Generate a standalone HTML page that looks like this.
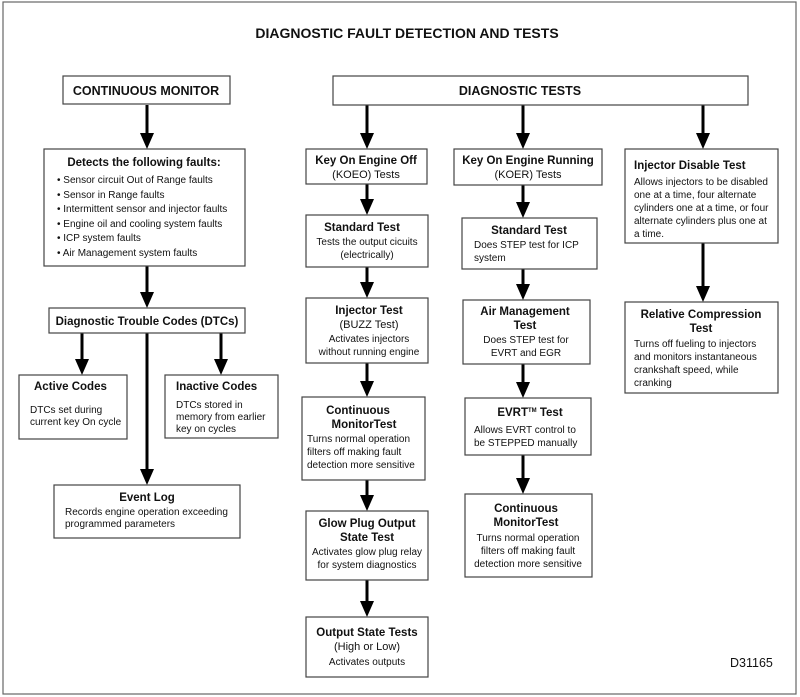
<!DOCTYPE html>
<html><head><meta charset="utf-8"><style>
html,body{margin:0;padding:0;background:#fff}
svg{display:block}
text{font-family:"Liberation Sans",Arial,sans-serif;fill:#111}
.b{font-weight:bold;font-size:11.5px}
.n{font-size:10px}
.t{font-size:12.5px}
rect{fill:#fff;stroke:#444;stroke-width:1.2}
line{stroke:#000;stroke-width:3}
polygon{fill:#000}
</style></head><body>
<svg width="800" height="697" viewBox="0 0 800 697">
<rect x="3" y="2" width="793" height="692" style="stroke:#666"/>
<text x="407" y="38" class="b" text-anchor="middle" style="font-size:14px">DIAGNOSTIC FAULT DETECTION AND TESTS</text>

<!-- arrows: line + head with tip at target -->
<g>
<line x1="147" y1="105" x2="147" y2="135"/><polygon points="140,133 154,133 147,149"/>
<line x1="147" y1="266" x2="147" y2="294"/><polygon points="140,292 154,292 147,308"/>
<line x1="82" y1="333" x2="82" y2="361"/><polygon points="75,359 89,359 82,375"/>
<line x1="221" y1="333" x2="221" y2="361"/><polygon points="214,359 228,359 221,375"/>
<line x1="147" y1="333" x2="147" y2="471"/><polygon points="140,469 154,469 147,485"/>
<line x1="367" y1="105" x2="367" y2="135"/><polygon points="360,133 374,133 367,149"/>
<line x1="523" y1="105" x2="523" y2="135"/><polygon points="516,133 530,133 523,149"/>
<line x1="703" y1="105" x2="703" y2="135"/><polygon points="696,133 710,133 703,149"/>
<line x1="367" y1="184" x2="367" y2="201"/><polygon points="360,199 374,199 367,215"/>
<line x1="367" y1="267" x2="367" y2="284"/><polygon points="360,282 374,282 367,298"/>
<line x1="367" y1="363" x2="367" y2="383"/><polygon points="360,381 374,381 367,397"/>
<line x1="367" y1="480" x2="367" y2="497"/><polygon points="360,495 374,495 367,511"/>
<line x1="367" y1="580" x2="367" y2="603"/><polygon points="360,601 374,601 367,617"/>
<line x1="523" y1="185" x2="523" y2="204"/><polygon points="516,202 530,202 523,218"/>
<line x1="523" y1="269" x2="523" y2="286"/><polygon points="516,284 530,284 523,300"/>
<line x1="523" y1="364" x2="523" y2="384"/><polygon points="516,382 530,382 523,398"/>
<line x1="523" y1="455" x2="523" y2="480"/><polygon points="516,478 530,478 523,494"/>
<line x1="703" y1="243" x2="703" y2="288"/><polygon points="696,286 710,286 703,302"/>
</g>

<rect x="63" y="76" width="167" height="28"/>
<text x="146" y="95" class="b" text-anchor="middle" style="font-size:12.5px">CONTINUOUS MONITOR</text>
<rect x="333" y="76" width="415" height="29"/>
<text x="520" y="95" class="b" text-anchor="middle" style="font-size:12.5px">DIAGNOSTIC TESTS</text>

<rect x="44" y="149" width="201" height="117"/>
<text x="144" y="166" class="b" text-anchor="middle">Detects the following faults:</text>
<text x="57" y="183" class="n">• Sensor circuit Out of Range faults</text>
<text x="57" y="198" class="n">• Sensor in Range faults</text>
<text x="57" y="212" class="n">• Intermittent sensor and injector faults</text>
<text x="57" y="227" class="n">• Engine oil and cooling system faults</text>
<text x="57" y="241" class="n">• ICP system faults</text>
<text x="57" y="256" class="n">• Air Management system faults</text>

<rect x="49" y="308" width="196" height="25"/>
<text x="147" y="325" class="b" text-anchor="middle">Diagnostic Trouble Codes (DTCs)</text>

<rect x="19" y="375" width="108" height="64"/>
<text x="34" y="390" class="b">Active Codes</text>
<text x="30" y="413" class="n">DTCs set during</text>
<text x="30" y="425" class="n">current key On cycle</text>
<rect x="165" y="375" width="113" height="63"/>
<text x="176" y="390" class="b">Inactive Codes</text>
<text x="176" y="408" class="n">DTCs stored in</text>
<text x="176" y="420" class="n">memory from earlier</text>
<text x="176" y="432" class="n">key on cycles</text>

<rect x="54" y="485" width="186" height="53"/>
<text x="147" y="501" class="b" text-anchor="middle">Event Log</text>
<text x="65" y="515" class="n">Records engine operation exceeding</text>
<text x="65" y="527" class="n">programmed parameters</text>

<!-- KOEO column -->
<rect x="306" y="149" width="121" height="35"/>
<text x="366" y="164" class="b" text-anchor="middle">Key On Engine Off</text>
<text x="366" y="178" class="n" text-anchor="middle" style="font-size:11px">(KOEO) Tests</text>
<rect x="306" y="215" width="122" height="52"/>
<text x="362" y="231" class="b" text-anchor="middle">Standard Test</text>
<text x="367" y="245" class="n" text-anchor="middle">Tests the output cicuits</text>
<text x="367" y="258" class="n" text-anchor="middle">(electrically)</text>
<rect x="306" y="298" width="122" height="65"/>
<text x="369" y="314" class="b" text-anchor="middle">Injector Test</text>
<text x="369" y="328" class="n" text-anchor="middle" style="font-size:11px">(BUZZ Test)</text>
<text x="369" y="342" class="n" text-anchor="middle">Activates injectors</text>
<text x="369" y="355" class="n" text-anchor="middle">without running engine</text>
<rect x="302" y="397" width="123" height="83"/>
<text x="358" y="414" class="b" text-anchor="middle">Continuous</text>
<text x="364" y="428" class="b" text-anchor="middle">MonitorTest</text>
<text x="307" y="442" class="n">Turns normal operation</text>
<text x="307" y="455" class="n">filters off making fault</text>
<text x="307" y="468" class="n">detection more sensitive</text>
<rect x="306" y="511" width="122" height="69"/>
<text x="367" y="527" class="b" text-anchor="middle">Glow Plug Output</text>
<text x="367" y="541" class="b" text-anchor="middle">State Test</text>
<text x="367" y="555" class="n" text-anchor="middle">Activates glow plug relay</text>
<text x="367" y="568" class="n" text-anchor="middle">for system diagnostics</text>
<rect x="306" y="617" width="122" height="60"/>
<text x="367" y="636" class="b" text-anchor="middle">Output State Tests</text>
<text x="367" y="650" class="n" text-anchor="middle" style="font-size:11px">(High or Low)</text>
<text x="367" y="665" class="n" text-anchor="middle">Activates outputs</text>

<!-- KOER column -->
<rect x="454" y="149" width="148" height="36"/>
<text x="528" y="164" class="b" text-anchor="middle">Key On Engine Running</text>
<text x="528" y="178" class="n" text-anchor="middle" style="font-size:11px">(KOER) Tests</text>
<rect x="462" y="218" width="135" height="51"/>
<text x="529" y="234" class="b" text-anchor="middle">Standard Test</text>
<text x="474" y="248" class="n">Does STEP test for ICP</text>
<text x="474" y="261" class="n">system</text>
<rect x="463" y="300" width="127" height="64"/>
<text x="525" y="315" class="b" text-anchor="middle">Air Management</text>
<text x="525" y="329" class="b" text-anchor="middle">Test</text>
<text x="526" y="343" class="n" text-anchor="middle">Does STEP test for</text>
<text x="526" y="356" class="n" text-anchor="middle">EVRT and EGR</text>
<rect x="465" y="398" width="126" height="57"/>
<text x="530" y="416" class="b" text-anchor="middle">EVRT<tspan style="font-size:6px" dy="-4">TM</tspan><tspan dy="4">  Test</tspan></text>
<text x="474" y="433" class="n">Allows EVRT control to</text>
<text x="474" y="446" class="n">be STEPPED manually</text>
<rect x="465" y="494" width="127" height="83"/>
<text x="526" y="512" class="b" text-anchor="middle">Continuous</text>
<text x="526" y="526" class="b" text-anchor="middle">MonitorTest</text>
<text x="528" y="541" class="n" text-anchor="middle">Turns normal operation</text>
<text x="528" y="554" class="n" text-anchor="middle">filters off making fault</text>
<text x="528" y="567" class="n" text-anchor="middle">detection more sensitive</text>

<!-- Right column -->
<rect x="625" y="149" width="153" height="94"/>
<text x="634" y="169" class="b">Injector Disable Test</text>
<text x="634" y="185" class="n">Allows injectors to be disabled</text>
<text x="634" y="198" class="n">one at a time, four alternate</text>
<text x="634" y="211" class="n">cylinders one at a time, or four</text>
<text x="634" y="224" class="n">alternate cylinders plus one at</text>
<text x="634" y="237" class="n">a time.</text>
<rect x="625" y="302" width="153" height="91"/>
<text x="701" y="318" class="b" text-anchor="middle">Relative Compression</text>
<text x="701" y="332" class="b" text-anchor="middle">Test</text>
<text x="634" y="347" class="n">Turns off fueling to injectors</text>
<text x="634" y="360" class="n">and monitors instantaneous</text>
<text x="634" y="373" class="n">crankshaft speed, while</text>
<text x="634" y="386" class="n">cranking</text>

<text x="730" y="667" class="t">D31165</text>
</svg>
</body></html>
